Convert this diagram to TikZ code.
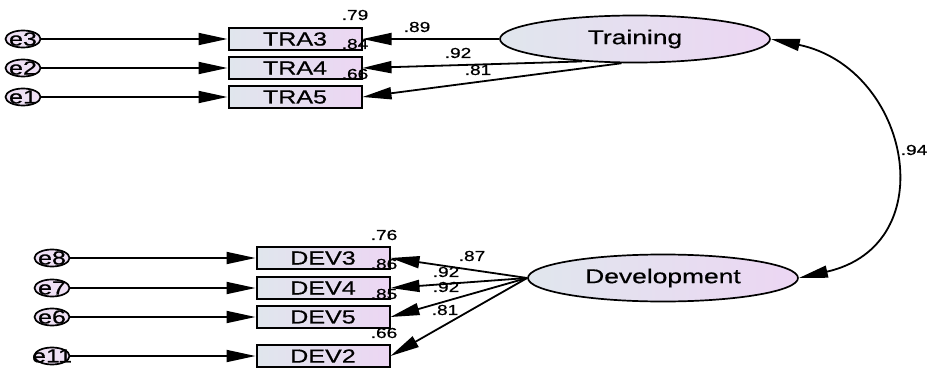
\documentclass[tikz,border=0pt]{standalone}
\usepackage{fontspec}
\setmainfont{Liberation Sans}
\newfontfamily\wideface[FakeStretch=1.32,FakeBold=0.6]{Liberation Sans}
\usetikzlibrary{arrows.meta,shapes.geometric}
\definecolor{lft}{RGB}{224,230,237}
\definecolor{rgt}{RGB}{236,214,243}
\definecolor{errfill}{RGB}{238,224,244}
\begin{document}
\begin{tikzpicture}[x=1pt,y=-1pt,
  obs/.style={draw, line width=2pt, minimum width=133pt, minimum height=22pt,
    left color=lft, right color=rgt, inner sep=0pt,
    font=\wideface\fontsize{19}{19}\selectfont},
  lat/.style={ellipse, draw, line width=1.7pt, minimum width=270pt, minimum height=47pt,
    left color=lft, right color=rgt, inner sep=0pt,
    font=\wideface\fontsize{20}{20}\selectfont},
  err/.style={ellipse, draw, line width=1.7pt, minimum width=35pt, minimum height=17pt,
    inner sep=0pt, fill=errfill},
  errtext/.style={font=\wideface\fontsize{19}{19}\selectfont, inner sep=0pt},
  arr/.style={-{Triangle[length=29pt,width=12pt]}, line width=1.8pt},
  cov/.style={{Triangle[length=29pt,width=12pt]}-{Triangle[length=29pt,width=12pt]}, line width=1.8pt},
  lbl/.style={font=\wideface\fontsize{14.5}{14.5}\selectfont, inner sep=0pt}]
\useasboundingbox (0,0) rectangle (927,369);

% top block
\node[obs] (TRA3) at (295,39) {TRA3};
\node[obs] (TRA4) at (295,68) {TRA4};
\node[obs] (TRA5) at (295,97) {TRA5};
\node[err, label={[errtext]center:e3}] (e3) at (23,39) {};
\node[err, label={[errtext]center:e2}] (e2) at (23,68) {};
\node[err, label={[errtext]center:e1}] (e1) at (23,97) {};
\node[lat] (Training) at (635,39) {Training};

\draw[arr] (e3.east) -- (TRA3.west);
\draw[arr] (e2.east) -- (TRA4.west);
\draw[arr] (e1.east) -- (TRA5.west);
\draw[arr] (Training.west) -- (TRA3.east);
\draw[arr] (Training.203.5) -- (TRA4.east);
\draw[arr] (Training.241.6) -- (TRA5.east);

\node[lbl] (r3) at (355,15) {.79};
\node[lbl] (r4) at (355,44) {.84};
\node[lbl] (r5) at (355,74) {.66};
\node[lbl] (l3) at (417,27) {.89};
\node[lbl] (l4) at (458,53) {.92};
\node[lbl] (l5) at (478,70) {.81};

% bottom block
\node[obs] (DEV3) at (323,258) {DEV3};
\node[obs] (DEV4) at (323,288) {DEV4};
\node[obs] (DEV5) at (323,317) {DEV5};
\node[obs] (DEV2) at (323,356) {DEV2};
\node[err, label={[errtext]center:e8}] (e8) at (52,258) {};
\node[err, label={[errtext]center:e7}] (e7) at (52,288) {};
\node[err, label={[errtext]center:e6}] (e6) at (52,317) {};
\node[err, label={[errtext]center:e11}] (e11) at (52,356) {};
\node[lat] (Development) at (663,278) {Development};

\draw[arr] (e8.east) -- (DEV3.west);
\draw[arr] (e7.east) -- (DEV4.west);
\draw[arr] (e6.east) -- (DEV5.west);
\draw[arr] (e11.east) -- (DEV2.west);
\draw[arr] (Development.west) -- (DEV3.east);
\draw[arr] (Development.west) -- (DEV4.east);
\draw[arr] (Development.west) -- (DEV5.east);
\draw[arr] (Development.west) -- (DEV2.east);

\node[lbl] (s3) at (384,235) {.76};
\node[lbl] (s4) at (384,264) {.86};
\node[lbl] (s5) at (384,294) {.85};
\node[lbl] (s2) at (384,333) {.66};
\node[lbl] (m3) at (472,256) {.87};
\node[lbl] (m4) at (446,272) {.92};
\node[lbl] (m5) at (446,287) {.92};
\node[lbl] (m2) at (445,310) {.81};

% covariance
\draw[cov] (Training.east) .. controls (910,68) and (945,245) .. (Development.east);
\node[lbl] (c) at (914,150) {.94};
\end{tikzpicture}
\end{document}
